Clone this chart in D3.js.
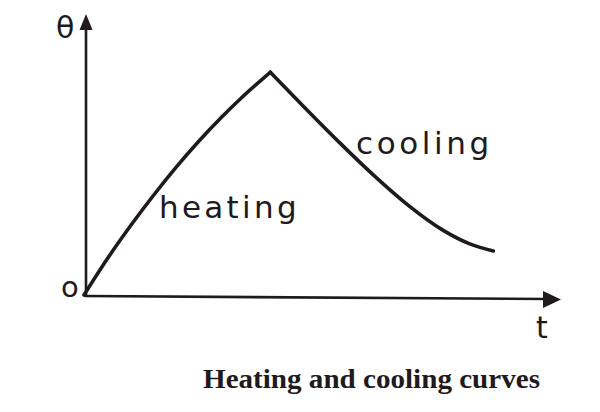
<!DOCTYPE html>
<html>
<head>
<meta charset="utf-8">
<script src="https://cdn.jsdelivr.net/npm/d3@7"></script>
<style>
  html, body { margin: 0; padding: 0; background: #ffffff; }
  svg { display: block; }
</style>
</head>
<body>
<svg id="chart" width="600" height="412"></svg>
<script>
// ---- data (t and theta in arbitrary units) ----
const heatT = [0, 0.5, 1.0, 1.5, 2.0, 2.5, 3.0, 3.5, 4.05];
const heatTheta = [0, 1.3, 2.49, 3.6, 4.64, 5.6, 6.48, 7.29, 8.1];
const coolT = [4.05, 4.8, 5.55, 6.3, 7.05, 7.8, 8.4, 8.9];
const coolTheta = [8.1, 6.81, 5.55, 4.35, 3.26, 2.36, 1.85, 1.6];
const curveLabels = ["heating", "cooling"];
const axisLabels = { y: "θ", origin: "o", x: "t" };
const caption = "Heating and cooling curves";

const ink = "#201a1d";
const svg = d3.select("#chart");

const x = d3.scaleLinear().domain([0, 10]).range([84, 544]);
const y = d3.scaleLinear().domain([0, 10]).range([295, 20]);

// axes
const ox = x(0) + 2, oy = y(0) + 1;
svg.append("line")
  .attr("x1", ox).attr("y1", oy + 1)
  .attr("x2", ox).attr("y2", 26)
  .attr("stroke", ink).attr("stroke-width", 2.6);
svg.append("path")
  .attr("d", `M${ox},14 L${ox - 6.5},30 L${ox + 6.5},30 Z`)
  .attr("fill", ink);

svg.append("line")
  .attr("x1", ox - 1).attr("y1", oy)
  .attr("x2", 548).attr("y2", oy + 3)
  .attr("stroke", ink).attr("stroke-width", 2.6);
svg.append("path")
  .attr("d", `M561,${oy + 3.5} L543,${oy - 5} L543,${oy + 12} Z`)
  .attr("fill", ink);

// curves
const line = d3.line()
  .x(d => x(d[0]))
  .y(d => y(d[1]))
  .curve(d3.curveMonotoneX);

const heat = heatT.map((t, i) => [t, heatTheta[i]]);
const cool = coolT.map((t, i) => [t, coolTheta[i]]);

svg.append("path")
  .attr("d", line(heat))
  .attr("fill", "none").attr("stroke", ink)
  .attr("stroke-width", 3.6).attr("stroke-linecap", "round").attr("stroke-linejoin", "round");
svg.append("path")
  .attr("d", line(cool))
  .attr("fill", "none").attr("stroke", ink)
  .attr("stroke-width", 3.6).attr("stroke-linecap", "round").attr("stroke-linejoin", "round");

// axis labels
svg.append("text").text(axisLabels.y)
  .attr("x", 56).attr("y", 38)
  .attr("font-family", "DejaVu Sans").attr("font-size", 30)
  .attr("fill", ink);
svg.append("text").text(axisLabels.origin)
  .attr("x", 61).attr("y", 297)
  .attr("font-family", "DejaVu Sans").attr("font-size", 29)
  .attr("fill", ink);
svg.append("text").text(axisLabels.x)
  .attr("x", 536).attr("y", 338)
  .attr("font-family", "DejaVu Sans").attr("font-size", 30)
  .attr("fill", ink);

// curve labels
svg.append("text").text(curveLabels[0])
  .attr("x", 159).attr("y", 218)
  .attr("font-family", "DejaVu Sans").attr("font-size", 31)
  .attr("letter-spacing", 3.3)
  .attr("fill", ink);
svg.append("text").text(curveLabels[1])
  .attr("x", 356).attr("y", 154)
  .attr("font-family", "DejaVu Sans").attr("font-size", 31)
  .attr("letter-spacing", 3.6)
  .attr("fill", ink);

// caption
svg.append("text").text(caption)
  .attr("x", 203).attr("y", 388)
  .attr("font-family", "Liberation Serif").attr("font-weight", "bold")
  .attr("font-size", 27)
  .attr("textLength", 337).attr("lengthAdjust", "spacingAndGlyphs")
  .attr("fill", ink);
</script>
</body>
</html>
